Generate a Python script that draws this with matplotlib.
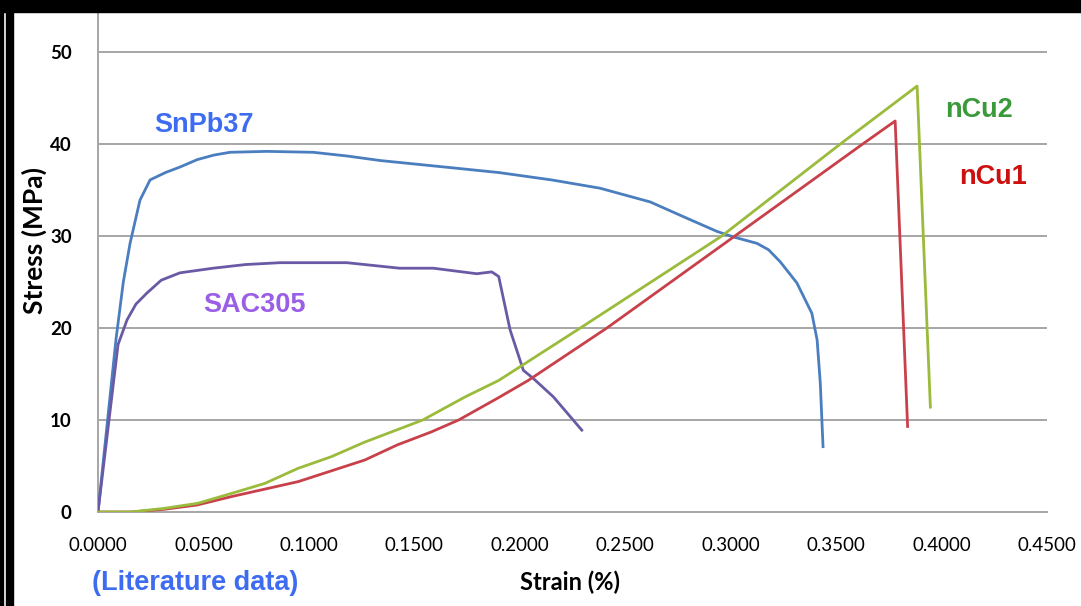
import matplotlib
matplotlib.use("Agg")
import matplotlib.pyplot as plt
from matplotlib.patches import Rectangle

# ---- data ----
snpb_strain = [0, 0.0085, 0.012, 0.0152, 0.0199, 0.0247, 0.0320, 0.0389, 0.047, 0.055, 0.0626,
               0.080, 0.102, 0.118, 0.134, 0.160, 0.190, 0.215, 0.238, 0.2619, 0.2776,
               0.2935, 0.3013, 0.3125, 0.318, 0.3235, 0.3314, 0.3385, 0.341, 0.3425, 0.3438]
snpb_stress = [0, 18.7, 25.0, 29.2, 33.9, 36.1, 36.9, 37.5, 38.3, 38.8, 39.1,
               39.2, 39.1, 38.7, 38.2, 37.6, 36.9, 36.1, 35.2, 33.7, 32.1,
               30.5, 29.9, 29.2, 28.5, 27.2, 24.9, 21.6, 18.7, 14.0, 7.1]

sac_strain = [0, 0.0095, 0.0138, 0.018, 0.0232, 0.030, 0.0389, 0.0546, 0.070, 0.0863, 0.100,
              0.118, 0.143, 0.159, 0.1796, 0.1867, 0.1900, 0.1954, 0.2017, 0.2065, 0.216, 0.2294]
sac_stress = [0, 18.2, 20.9, 22.6, 23.8, 25.2, 26.0, 26.5, 26.9, 27.1, 27.1,
              27.1, 26.5, 26.5, 25.9, 26.1, 25.6, 19.8, 15.4, 14.5, 12.5, 8.9]

ncu2_strain = [0, 0.0156, 0.0316, 0.0474, 0.063, 0.079, 0.0949, 0.1105, 0.1265, 0.154, 0.174,
               0.19, 0.2287, 0.2958, 0.352, 0.3884, 0.3947]
ncu2_stress = [0, 0, 0.4, 0.95, 2.0, 3.1, 4.75, 6.0, 7.6, 10, 12.5,
               14.3, 20, 30, 40, 46.3, 11.4]

ncu1_strain = [0, 0.0156, 0.0316, 0.047, 0.063, 0.0949, 0.1265, 0.142, 0.158, 0.171, 0.1897,
               0.204, 0.2413, 0.302, 0.3626, 0.378, 0.3839]
ncu1_stress = [0, 0, 0.3, 0.76, 1.66, 3.3, 5.65, 7.3, 8.7, 10, 12.4,
               14.3, 20, 30, 40, 42.5, 9.3]

x_ticks = [0.0, 0.05, 0.10, 0.15, 0.20, 0.25, 0.30, 0.35, 0.40, 0.45]
x_ticklabels = ["0.0000", "0.0500", "0.1000", "0.1500", "0.2000", "0.2500",
                "0.3000", "0.3500", "0.4000", "0.4500"]
y_ticks = [0, 10, 20, 30, 40, 50]

# ---- figure ----
W, H = 1081, 606
fig = plt.figure(figsize=(W / 100, H / 100), dpi=100)
fig.patch.set_facecolor("white")

# black frame bits (top bar, left double bar)
fig.patches.append(Rectangle((0, 1 - 12 / H), 1, 12 / H, transform=fig.transFigure,
                             color="black", zorder=0))
fig.patches.append(Rectangle((0, 0), 3 / W, 1, transform=fig.transFigure,
                             color="black", zorder=0))
fig.patches.append(Rectangle((6 / W, 0), 7 / W, 1, transform=fig.transFigure,
                             color="black", zorder=0))

left = 98 / W
right = 1047 / W
bottom = 1 - 512 / H
top = 1 - 12 / H
ax = fig.add_axes([left, bottom, right - left, top - bottom])
ax.set_xlim(0, 0.45)
ax.set_ylim(0, 54.35)

grid_c = "#a6a6a6"
for yv in y_ticks[1:]:
    ax.axhline(yv, color=grid_c, lw=1.4, zorder=1)
for s in ["top", "right"]:
    ax.spines[s].set_visible(False)
ax.spines["left"].set_color(grid_c)
ax.spines["left"].set_linewidth(1.4)
ax.spines["bottom"].set_color(grid_c)
ax.spines["bottom"].set_linewidth(1.4)

lw = 2.0
ax.plot(snpb_strain, snpb_stress, color="#4a7ebf", lw=lw, zorder=3, solid_joinstyle="round")
ax.plot(sac_strain, sac_stress, color="#6a5aa6", lw=lw, zorder=3, solid_joinstyle="round")
ax.plot(ncu1_strain, ncu1_stress, color="#c8414a", lw=lw, zorder=3, solid_joinstyle="round")
ax.plot(ncu2_strain, ncu2_stress, color="#9bbb3c", lw=lw, zorder=4, solid_joinstyle="round")

ax.set_xticks(x_ticks)
ax.set_xticklabels(x_ticklabels, fontfamily="Lato", fontsize=13.5)
ax.set_yticks(y_ticks)
ax.set_yticklabels([str(v) for v in y_ticks], fontfamily="Lato", fontweight="bold", fontsize=13.5)
ax.tick_params(axis="x", length=0, pad=18)
ax.tick_params(axis="y", length=0, pad=19)

fig.text(34 / W, 1 - 240 / H, "Stress (MPa)", rotation=90, ha="center", va="center",
         fontfamily="Lato", fontweight="bold", fontsize=19)
fig.text(570 / W, 1 - 582 / H, "Strain (%)", ha="center", va="center",
         fontfamily="Lato", fontweight="bold", fontsize=17)

lab = dict(fontfamily="Liberation Sans", fontweight="bold", fontsize=19.5, ha="center", va="center")
fig.text(204 / W, 1 - 125 / H, "SnPb37", color="#3d6cf0", **lab)
fig.text(255 / W, 1 - 305 / H, "SAC305", color="#9a5fe6", **lab)
fig.text(979 / W, 1 - 110 / H, "nCu2", color="#3a9a3a", **lab)
fig.text(993 / W, 1 - 177 / H, "nCu1", color="#cc1010", **lab)
fig.text(195 / W, 1 - 583 / H, "(Literature data)", color="#3d6cf0", **lab)

fig.savefig("out.png", dpi=100, facecolor="white")
